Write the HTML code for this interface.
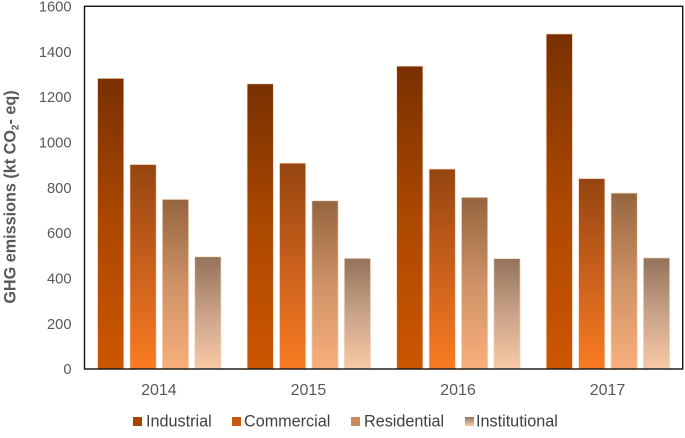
<!DOCTYPE html>
<html>
<head>
<meta charset="utf-8">
<style>
html,body{margin:0;padding:0;background:#fff;width:685px;height:438px;overflow:hidden}
svg{display:block;filter:blur(0.3px)}
text{font-family:"Liberation Sans",sans-serif}
</style>
</head>
<body>
<svg id="chart" width="685" height="438" viewBox="0 0 685 438" xmlns="http://www.w3.org/2000/svg">
<defs>
<linearGradient id="g0" x1="0" y1="0" x2="0" y2="1"><stop offset="0" stop-color="#793000"/><stop offset="0.5" stop-color="#ac4800"/><stop offset="1" stop-color="#cc5600"/></linearGradient>
<linearGradient id="g1" x1="0" y1="0" x2="0" y2="1"><stop offset="0" stop-color="#964510"/><stop offset="0.5" stop-color="#c9601c"/><stop offset="1" stop-color="#f97b22"/></linearGradient>
<linearGradient id="g2" x1="0" y1="0" x2="0" y2="1"><stop offset="0" stop-color="#95653f"/><stop offset="0.5" stop-color="#cf9266"/><stop offset="1" stop-color="#f9af7c"/></linearGradient>
<linearGradient id="g3" x1="0" y1="0" x2="0" y2="1"><stop offset="0" stop-color="#94735a"/><stop offset="0.5" stop-color="#c9a288"/><stop offset="1" stop-color="#f9caa6"/></linearGradient>
</defs>
<g id="bars"></g>
<g id="ticks"></g>
<g id="cats"></g>
<rect x="84.5" y="6.3" width="598.2" height="362.7" fill="none" stroke="#111" stroke-width="1.4"/>
<text transform="translate(15.7,197) rotate(-90)" text-anchor="middle" font-size="16.2" font-weight="bold" fill="#595959">GHG emissions (kt CO<tspan font-size="10" dy="3">2</tspan><tspan dy="-3">- eq)</tspan></text>
<g id="legend"></g>
</svg>
<script>
var categories = ["2014", "2015", "2016", "2017"];
var seriesNames = ["Industrial", "Commercial", "Residential", "Institutional"];
var industrial = [1282, 1258, 1336, 1478];
var commercial = [902, 908, 882, 840];
var residential = [748, 742, 757, 776];
var institutional = [495, 488, 487, 490];
var yTicks = [0, 200, 400, 600, 800, 1000, 1200, 1400, 1600];

var seriesValues = [industrial, commercial, residential, institutional];
var NS = "http://www.w3.org/2000/svg";
var plotLeft = 84.5, plotRight = 682.7, plotTop = 6.3, plotBottom = 369;
var yMax = 1600;
var barWidth = 26.2, barStep = 32.4;
var legendFills = ["#a84400", "#c8590f", "#c98a5c", "url(#g3)"];
var legendBox = [133, 232, 351, 465];
var legendText = [146, 244, 364, 476];

function yScale(v) { return plotBottom - (v / yMax) * (plotBottom - plotTop); }
function groupCenter(i) { return plotLeft + (i + 0.5) * (plotRight - plotLeft) / categories.length; }
function barX(i, s) { return groupCenter(i) + (s - seriesValues.length / 2) * barStep + (barStep - barWidth) / 2; }

var barsG = document.getElementById("bars");
seriesValues.forEach(function (vals, s) {
  vals.forEach(function (v, i) {
    var r = document.createElementNS(NS, "rect");
    r.setAttribute("x", barX(i, s));
    r.setAttribute("y", yScale(v));
    r.setAttribute("width", barWidth);
    r.setAttribute("height", plotBottom - yScale(v));
    r.setAttribute("fill", "url(#g" + s + ")");
    r.setAttribute("stroke", "#f3d9c2");
    r.setAttribute("stroke-width", "0.7");
    
    
    barsG.appendChild(r);
  });
});

var ticksG = document.getElementById("ticks");
yTicks.forEach(function (t) {
  var el = document.createElementNS(NS, "text");
  el.setAttribute("x", 71.5);
  el.setAttribute("y", yScale(t) + 5.2);
  el.setAttribute("text-anchor", "end");
  el.setAttribute("font-size", "14.7");
  el.setAttribute("fill", "#595959");
  
  
  el.textContent = t;
  ticksG.appendChild(el);
});

var catsG = document.getElementById("cats");
categories.forEach(function (c, i) {
  var el = document.createElementNS(NS, "text");
  el.setAttribute("x", groupCenter(i) - 0.4);
  el.setAttribute("y", 395);
  el.setAttribute("text-anchor", "middle");
  el.setAttribute("font-size", "16");
  el.setAttribute("fill", "#595959");
  
  
  el.textContent = c;
  catsG.appendChild(el);
});

var legendG = document.getElementById("legend");
seriesNames.forEach(function (n, s) {
  var b = document.createElementNS(NS, "rect");
  b.setAttribute("x", legendBox[s]);
  b.setAttribute("y", 417);
  b.setAttribute("width", 9);
  b.setAttribute("height", 9);
  b.setAttribute("fill", legendFills[s]);
  
  
  legendG.appendChild(b);
  var t = document.createElementNS(NS, "text");
  t.setAttribute("x", legendText[s]);
  t.setAttribute("y", 426.7);
  t.setAttribute("font-size", "16.2");
  t.setAttribute("fill", "#404040");
  
  
  t.textContent = n;
  legendG.appendChild(t);
});
</script>
</body>
</html>
